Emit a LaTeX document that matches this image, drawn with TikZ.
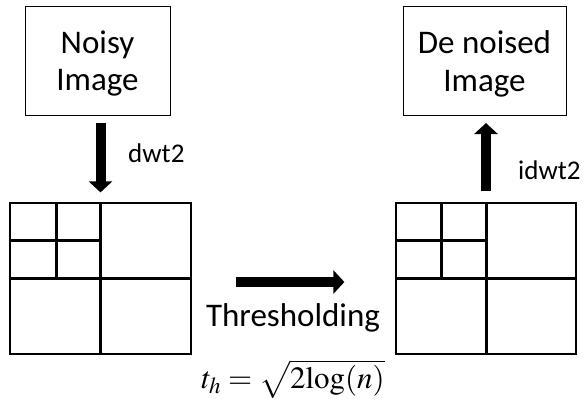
\documentclass[tikz,border=0pt]{standalone}
\usepackage{mathptmx}
\usepackage[no-math]{fontspec}
\setmainfont{Carlito}
\usetikzlibrary{arrows.meta}
\tikzset{
  imgbox/.style={draw, line width=1pt, minimum width=145pt, minimum height=109pt, inner sep=0pt},
  boxtext/.style={align=center, inner sep=0pt, font=\fontsize{33}{37.5}\selectfont},
  gridbox/.style={draw, line width=1.2pt, minimum width=181pt, minimum height=151pt, inner sep=0pt},
  sub/.style={line width=3pt},
  bigarrow/.style={line width=10pt, -{Triangle[width=23pt,length=11pt]}},
  lbl/.style={font=\fontsize{27}{30}\selectfont, inner sep=0pt, anchor=west},
}
\begin{document}
\begin{tikzpicture}[x=1pt,y=-1pt]
\useasboundingbox (0,0) rectangle (584,399);
% boxes
\node[imgbox] (noisy) at (97.5,60.5) {};
\node[boxtext] (noisyt) at ([yshift=-3pt]noisy.center) {Noisy\\Image};
\node[imgbox, minimum width=163pt] (denoised) at (484.5,61) {};
\node[boxtext] (denoisedt) at ([yshift=-3pt]denoised.center) {De noised\\Image};
% grids
\node[gridbox] (gl) at (100.5,278.5) {};
\node[gridbox, minimum width=180pt] (gr) at (486,278.5) {};
% left grid lines
\draw[sub] (gl.north) -- (gl.south);
\draw[sub] (gl.west) -- (gl.east);
\draw[sub] (56,203) -- (56,278);
\draw[sub] (10,240) -- (100,240);
% right grid lines
\draw[sub] (gr.north) -- (gr.south);
\draw[sub] (gr.west) -- (gr.east);
\draw[sub] (441,203) -- (441,278);
\draw[sub] (396,240) -- (487,240);
% arrows
\draw[bigarrow, shorten <=7pt, shorten >=10pt] (noisy.south -| gl.north) -- (gl.north);
\node[lbl] (dwt) at (128,153) {dwt2};
\draw[bigarrow, shorten <=11pt, shorten >=7pt] (gr.north) -- (gr.north |- denoised.south);
\node[lbl] (idwt) at (518,170) {idwt2};
\draw[bigarrow, shorten <=44pt, shorten >=51pt] (gl.east |- 0,282) -- (gr.west |- 0,282);
\node[font=\fontsize{33}{36}\selectfont, inner sep=0pt] (thr) at (293,318) {Thresholding};
\node[font=\fontsize{31}{34}\selectfont, inner sep=0pt] (eq) at (293,379) {$t_h=\sqrt{2\mathrm{log}(n)}$};
\end{tikzpicture}
\end{document}
